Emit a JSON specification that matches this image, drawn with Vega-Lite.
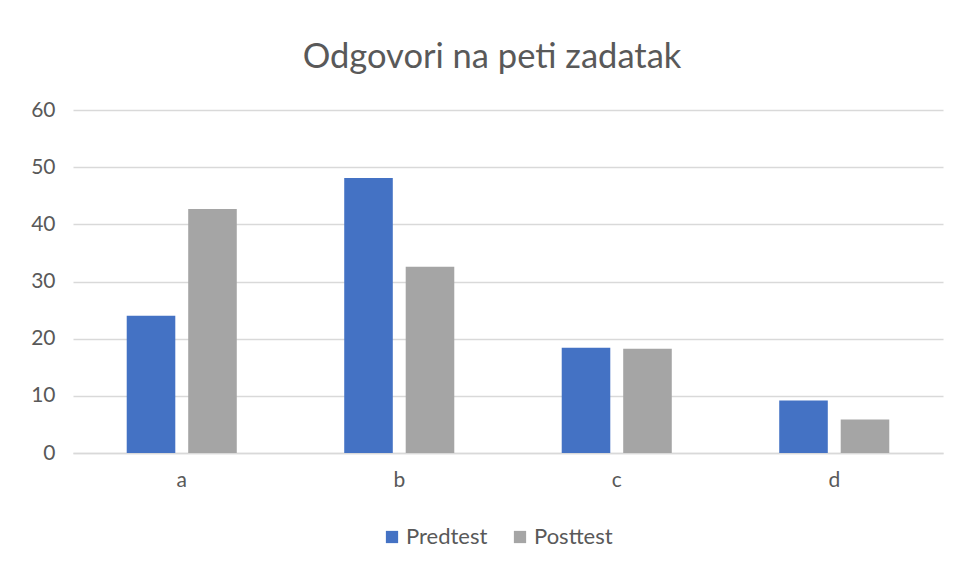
{
  "$schema": "https://vega.github.io/schema/vega-lite/v6.json",
  "autosize": {"type": "none"},
  "width": 870,
  "height": 343,
  "padding": {"left": 73, "top": 110, "right": 17, "bottom": 117},
  "background": "white",
  "title": {
    "text": "Odgovori na peti zadatak",
    "font": "Lato",
    "fontSize": 34.5,
    "fontWeight": "normal",
    "color": "#595959",
    "anchor": "middle",
    "dx": -16,
    "offset": 24
  },
  "data": {
    "values": [
      {"odgovor": "a", "test": "Predtest", "vrijednost": 24.0},
      {"odgovor": "a", "test": "Posttest", "vrijednost": 42.7},
      {"odgovor": "b", "test": "Predtest", "vrijednost": 48.1},
      {"odgovor": "b", "test": "Posttest", "vrijednost": 32.6},
      {"odgovor": "c", "test": "Predtest", "vrijednost": 18.4},
      {"odgovor": "c", "test": "Posttest", "vrijednost": 18.25},
      {"odgovor": "d", "test": "Predtest", "vrijednost": 9.2},
      {"odgovor": "d", "test": "Posttest", "vrijednost": 5.85}
    ]
  },
  "mark": {"type": "bar"},
  "encoding": {
    "x": {
      "field": "odgovor",
      "type": "nominal",
      "sort": ["a", "b", "c", "d"],
      "scale": {"paddingInner": 0.494, "paddingOuter": 0.247},
      "axis": {
        "title": null,
        "labelAngle": 0,
        "labelFont": "Lato",
        "labelFontSize": 21,
        "labelColor": "#595959",
        "labelPadding": 16,
        "domain": true,
        "domainColor": "#D9D9D9",
        "domainWidth": 1.5,
        "ticks": false,
        "grid": false
      }
    },
    "xOffset": {
      "field": "test",
      "type": "nominal",
      "sort": ["Predtest", "Posttest"],
      "scale": {"paddingInner": 0.21, "paddingOuter": 0}
    },
    "y": {
      "field": "vrijednost",
      "type": "quantitative",
      "scale": {"domain": [0, 60], "nice": false},
      "axis": {
        "title": null,
        "values": [0, 10, 20, 30, 40, 50, 60],
        "labelFont": "Lato",
        "labelFontSize": 21,
        "labelColor": "#595959",
        "labelPadding": 18,
        "domain": false,
        "ticks": false,
        "grid": true,
        "gridColor": "#D9D9D9",
        "gridWidth": 1.5
      }
    },
    "color": {
      "field": "test",
      "type": "nominal",
      "sort": ["Predtest", "Posttest"],
      "scale": {"domain": ["Predtest", "Posttest"], "range": ["#4472C4", "#A5A5A5"]},
      "legend": {
        "title": null,
        "orient": "none",
        "legendX": 308,
        "legendY": 416,
        "direction": "horizontal",
        "symbolType": "square",
        "symbolSize": 150,
        "symbolStrokeWidth": 0,
        "labelFont": "Lato",
        "labelFontSize": 22,
        "labelColor": "#595959",
        "labelOffset": 3,
        "columnPadding": 21
      }
    }
  },
  "config": {
    "view": {"stroke": null}
  }
}
